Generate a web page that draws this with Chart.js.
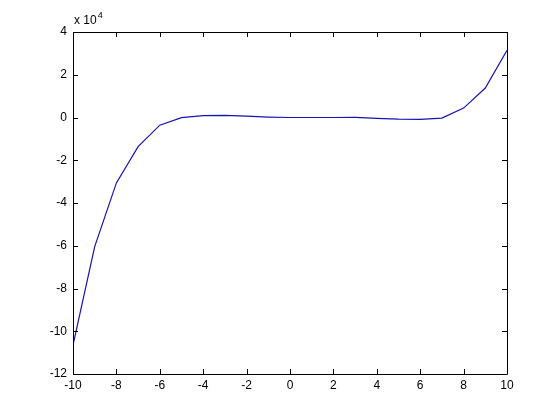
<!DOCTYPE html>
<html>
<head>
<meta charset="utf-8">
<script src="https://cdn.jsdelivr.net/npm/chart.js@4.4.0/dist/chart.umd.min.js"></script>
<style>
  html, body { margin: 0; padding: 0; background: #fff; }
  #wrap { width: 560px; height: 420px; }
</style>
</head>
<body>
<div id="wrap"><canvas id="plot" width="560" height="420"></canvas></div>
<script>
// x samples and curve values
const xValues = [-10, -9, -8, -7, -6, -5, -4, -3, -2, -1, 0, 1, 2, 3, 4, 5, 6, 7, 8, 9, 10];
const yValues = [-106500, -60400, -30600, -13600, -3600, -100, 900, 1000, 600, 200,
                 0, 0, 0, 100, -400, -800, -900, -300, 4400, 13800, 31400];

// axis ranges / tick steps
const xTicks = [-10, -8, -6, -4, -2, 0, 2, 4, 6, 8, 10];
const yTicks = [-120000, -100000, -80000, -60000, -40000, -20000, 0, 20000, 40000];
const yExponent = 4;

const FONT = { family: 'Liberation Sans, Arial, sans-serif', size: 12 };

// MATLAB style box with inward ticks on all four sides + exponent label
const matlabBox = {
  id: 'matlabBox',
  afterDraw(chart) {
    const { ctx, chartArea: a, scales } = chart;
    const len = 5;
    ctx.save();
    ctx.strokeStyle = '#000';
    ctx.lineWidth = 1;
    ctx.beginPath();
    ctx.rect(Math.round(a.left) + 0.5, Math.round(a.top) + 0.5,
             Math.round(a.right - a.left), Math.round(a.bottom - a.top));
    scales.x.ticks.forEach(t => {
      const px = Math.round(scales.x.getPixelForValue(t.value)) + 0.5;
      ctx.moveTo(px, a.bottom); ctx.lineTo(px, a.bottom - len);
      ctx.moveTo(px, a.top); ctx.lineTo(px, a.top + len);
    });
    scales.y.ticks.forEach(t => {
      const py = Math.round(scales.y.getPixelForValue(t.value)) + 0.5;
      ctx.moveTo(a.left, py); ctx.lineTo(a.left + len, py);
      ctx.moveTo(a.right, py); ctx.lineTo(a.right - len, py);
    });
    ctx.stroke();

    // "x 10^4" above the y axis
    ctx.fillStyle = '#000';
    ctx.textBaseline = 'alphabetic';
    ctx.textAlign = 'left';
    ctx.font = `12px ${FONT.family}`;
    const base = 'x 10';
    const bx = a.left + 1, by = a.top - 8;
    ctx.fillText(base, bx, by);
    const w = ctx.measureText(base).width;
    ctx.font = `9px ${FONT.family}`;
    ctx.fillText(String(yExponent), bx + w + 1, by - 6);
    ctx.restore();
  }
};

new Chart(document.getElementById('plot'), {
  type: 'line',
  data: {
    labels: xValues,
    datasets: [{
      data: xValues.map((x, i) => ({ x, y: yValues[i] })),
      borderColor: '#1414b4',
      borderWidth: 1.2,
      pointRadius: 0,
      tension: 0,
      fill: false
    }]
  },
  options: {
    responsive: false,
    animation: false,
    devicePixelRatio: 1,
    layout: { padding: { left: 0, right: 53, top: 32, bottom: 0 } },
    plugins: { legend: { display: false }, tooltip: { enabled: false } },
    scales: {
      x: {
        type: 'linear',
        min: -10,
        max: 10,
        afterBuildTicks: s => { s.ticks = xTicks.map(v => ({ value: v })); },
        afterFit: s => { s.height = 46; },
        grid: { display: false, drawTicks: false },
        border: { display: false },
        ticks: { color: '#000', font: FONT, padding: 4, maxRotation: 0, callback: v => String(v) }
      },
      y: {
        type: 'linear',
        min: -120000,
        max: 40000,
        afterBuildTicks: s => { s.ticks = yTicks.map(v => ({ value: v })); },
        afterFit: s => { s.width = 73; },
        grid: { display: false, drawTicks: false },
        border: { display: false },
        ticks: { color: '#000', font: FONT, padding: 6, callback: v => String(v / Math.pow(10, yExponent)) }
      }
    }
  },
  plugins: [matlabBox]
});
</script>
</body>
</html>
